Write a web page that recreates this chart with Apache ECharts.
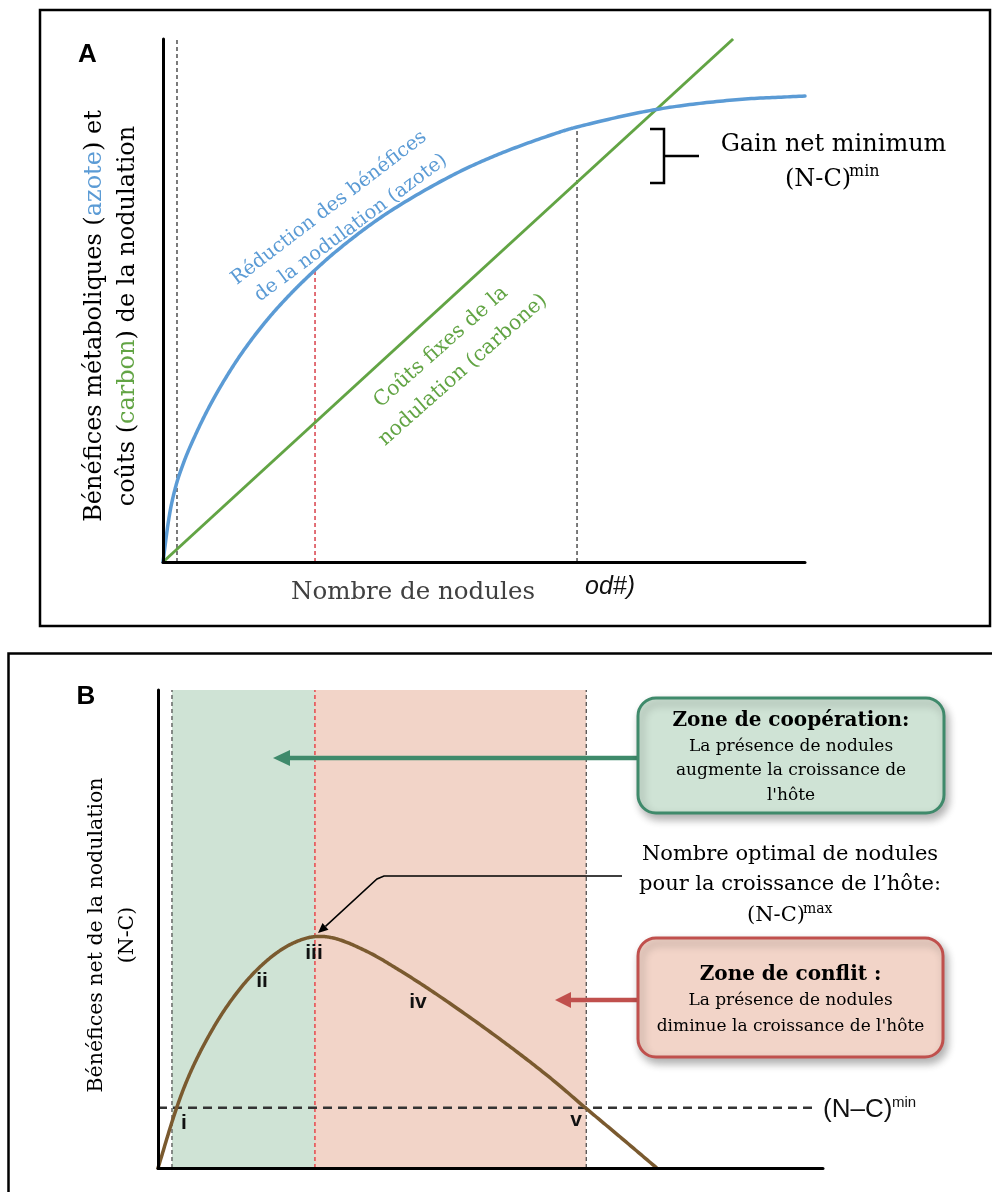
<!DOCTYPE html>
<html><head><meta charset="utf-8">
<script src="https://cdn.jsdelivr.net/npm/echarts@6/dist/echarts.min.js"></script>
<style>html,body{margin:0;padding:0;background:#fff}#c{width:992px;height:1192px}</style>
</head><body><div id="c"></div>
<script>
// ---- Panel A data (x: nombre de nodules 0..100, y: 0..100) ----
const beneficesAzoteA = [[0,0],[0.83,7.65],[1.36,11.28],[2.18,15.3],[2.91,17.97],[3.94,21.24],[6.54,28.11],[9.14,33.92],[12.26,39.92],[15.89,45.81],[19.47,50.75],[23.68,55.83],[27.83,60.27],[34.84,66.63],[45.17,74.0],[52.96,78.3],[61.84,82.22],[64.49,83.17],[76.32,86.42],[88.79,88.34],[100,89.1]];
const coutsCarboneA = [[0,0],[88.8,100]];
const verticalsA = [2.18, 23.68, 64.49];
const verticalTopsA = [100, 55.83, 83.17];
// ---- Panel B data ----
const netBeneficeB = [[0,0],[2.81,12.62],[4.81,19.79],[7.32,26.84],[10.33,33.74],[13.83,39.94],[17.34,44.48],[20.35,47.07],[23.35,48.37],[26.36,48.12],[31.38,45.33],[36.39,41.3],[42.41,35.86],[51.43,26.95],[58.95,18.89],[64.21,12.66],[69.47,6.53],[75.0,0]];
const verticalsB = [2.1, 23.6, 64.4];
const ncMinB = 12.6;
const ncMinEndB = 98.8;

const SERIF = '"DejaVu Serif"';
const SANS = '"Liberation Sans"';
const BLUE = '#5b9bd5', GREEN = '#62a444', BROWN = '#7a5a2f';

const chart = echarts.init(document.getElementById('c'), null, {renderer:'canvas'});

function axis(grid){
  return {gridIndex:grid, type:'value', min:0, max:100, z:10,
    axisLine:{show:true, onZero:false, lineStyle:{color:'#000', width:3}},
    axisTick:{show:false}, axisLabel:{show:false}, splitLine:{show:false}};
}
function vline(grid, x, top, color, width, dash){
  return {type:'line', xAxisIndex:grid, yAxisIndex:grid, data:[[x,0],[x,top]], symbol:'none', silent:true, z:4,
    lineStyle:{color:color, width:width, type:dash}};
}
// centripetal Catmull-Rom through the projected data points (drawing only)
function spline(P){
  const out = [];
  const n = P.length;
  const get = i => P[Math.max(0, Math.min(n-1, i))];
  function tj(ti, a, b){ const d = Math.hypot(b[0]-a[0], b[1]-a[1]); return ti + Math.max(Math.sqrt(d), 1e-4); }
  for (let i = 0; i < n-1; i++){
    let p0 = get(i-1), p1 = get(i), p2 = get(i+1), p3 = get(i+2);
    if (i === 0) p0 = [2*p1[0]-p2[0], 2*p1[1]-p2[1]];
    if (i === n-2) p3 = [2*p2[0]-p1[0], 2*p2[1]-p1[1]];
    const t0 = 0, t1 = tj(t0,p0,p1), t2 = tj(t1,p1,p2), t3 = tj(t2,p2,p3);
    const steps = 24;
    for (let s = 0; s <= steps; s++){
      if (i > 0 && s === 0) continue;
      const t = t1 + (t2-t1)*s/steps;
      const L = (a,b,ta,tb) => [ (tb-t)/(tb-ta)*a[0] + (t-ta)/(tb-ta)*b[0], (tb-t)/(tb-ta)*a[1] + (t-ta)/(tb-ta)*b[1] ];
      const A1 = L(p0,p1,t0,t1), A2 = L(p1,p2,t1,t2), A3 = L(p2,p3,t2,t3);
      const B1 = L(A1,A2,t0,t2), B2 = L(A2,A3,t1,t3);
      out.push(L(B1,B2,t1,t2));
    }
  }
  return out;
}
function curveSeries(grid, data, color, width){
  return {type:'custom', xAxisIndex:grid, yAxisIndex:grid, data:data, silent:true, z:6, clip:false,
    encode:{x:0, y:1},
    renderItem:function(params, api){
      if (params.dataIndex !== 0) return null;
      const pts = data.map(d => api.coord(d));
      return {type:'polyline', shape:{points:spline(pts)}, style:{stroke:color, lineWidth:width, fill:'none', lineJoin:'round', lineCap:'round'}};
    }};
}

const series = [
  curveSeries(0, beneficesAzoteA, BLUE, 3.5),
  {type:'line', xAxisIndex:0, yAxisIndex:0, data:coutsCarboneA, symbol:'none', z:5,
    lineStyle:{color:GREEN, width:3}},
  vline(0, verticalsA[0], verticalTopsA[0], '#222', 1.2, [4,3]),
  vline(0, verticalsA[1], verticalTopsA[1], '#d9404a', 1.5, [4,3]),
  vline(0, verticalsA[2], verticalTopsA[2], '#222', 1.2, [4,3]),
  // panel B shading
  {type:'line', xAxisIndex:1, yAxisIndex:1, data:[], z:1, silent:true,
    markArea:{silent:true, data:[
      [{xAxis:verticalsB[0], yAxis:0, itemStyle:{color:'#cfe3d5'}},{xAxis:verticalsB[1], yAxis:100}],
      [{xAxis:verticalsB[1], yAxis:0, itemStyle:{color:'#f2d4c8'}},{xAxis:verticalsB[2], yAxis:100}]
    ]}},
  vline(1, verticalsB[0], 100, '#444', 1.2, [4,3]),
  vline(1, verticalsB[1], 100, '#e8202a', 1.2, [4,3]),
  vline(1, verticalsB[2], 100, '#444', 1.2, [4,3]),
  {type:'line', xAxisIndex:1, yAxisIndex:1, data:[[0,ncMinB],[ncMinEndB,ncMinB]], symbol:'none', silent:true, z:4,
    lineStyle:{color:'#333', width:2.5, type:[9,6]}},
  curveSeries(1, netBeneficeB, BROWN, 3.5)
];

function txt(x, y, text, font, fill, extra){
  return Object.assign({type:'text', x:x, y:y, z:20, silent:true,
    style:{text:text, font:font, fill:fill||'#000', align:'center', verticalAlign:'middle', textAlign:'center', textVerticalAlign:'middle'}}, extra||{});
}
function ltxt(x, y, text, font, fill){
  return {type:'text', x:x, y:y, z:20, silent:true,
    style:{text:text, font:font, fill:fill||'#000', align:'left', verticalAlign:'middle', textAlign:'left', textVerticalAlign:'middle'}};
}
const deg = Math.PI/180;

const graphic = [
  // panel borders
  {type:'rect', z:0, silent:true, shape:{x:40,y:10,width:950,height:616}, style:{fill:'none', stroke:'#000', lineWidth:2.5}},
  {type:'rect', z:0, silent:true, shape:{x:8.5,y:653.5,width:1000,height:600}, style:{fill:'none', stroke:'#000', lineWidth:2.5}},
  // panel letters
  txt(87.5, 55, 'A', 'bold 26px '+SANS),
  txt(86, 697, 'B', 'bold 26px '+SANS),
  // panel A y-axis label
  {type:'text', x:111.5, y:316, rotation:Math.PI/2, z:20, silent:true,
    style:{text:'{k|Bénéfices métaboliques (}{b|azote}{k|) et}\n{k|coûts (}{g|carbon}{k|) de la nodulation}',
      align:'center', verticalAlign:'middle', textAlign:'center', textVerticalAlign:'middle',
      rich:{k:{font:'24px '+SERIF, fill:'#000', lineHeight:33}, b:{font:'24px '+SERIF, fill:BLUE, lineHeight:33}, g:{font:'24px '+SERIF, fill:GREEN, lineHeight:33}}}},
  // x label A
  txt(413, 593, 'Nombre de nodules', '24.5px '+SERIF, '#404040'),
  txt(610, 587, 'od#)', 'italic 25px '+SANS, '#111'),
  // curve labels A
  txt(329, 208, 'Réduction des bénéfices', '19.5px '+SERIF, BLUE, {rotation:37.5*deg}),
  txt(351, 228, 'de la nodulation (azote)', '19.5px '+SERIF, BLUE, {rotation:36.5*deg}),
  txt(441, 347, 'Coûts fixes de la', '20.5px '+SERIF, GREEN, {rotation:41.6*deg}),
  txt(463, 370, 'nodulation (carbone)', '20.5px '+SERIF, GREEN, {rotation:41.5*deg}),
  // gain net minimum bracket
  {type:'polyline', z:20, silent:true, shape:{points:[[650,129],[664,129],[664,183],[650,183]]}, style:{stroke:'#000', lineWidth:2.5, fill:'none'}},
  {type:'line', z:20, silent:true, shape:{x1:664,y1:156,x2:699,y2:156}, style:{stroke:'#000', lineWidth:2.5}},
  txt(833.5, 145, 'Gain net minimum', '24px '+SERIF),
  ltxt(785, 180, '(N-C)', '24px '+SERIF),
  ltxt(849, 172, 'min', '16px '+SERIF),
  // panel B y-axis label
  {type:'text', x:112.5, y:935, rotation:Math.PI/2, z:20, silent:true,
    style:{text:'Bénéfices net de la nodulation\n(N-C)', font:'20.5px '+SERIF, fill:'#000', lineHeight:31,
      align:'center', verticalAlign:'middle', textAlign:'center', textVerticalAlign:'middle'}},
  // roman numerals
  txt(184, 1123, 'i', 'bold 21px '+SANS, '#111'),
  txt(262, 981, 'ii', 'bold 21px '+SANS, '#111'),
  txt(314, 953, 'iii', 'bold 21px '+SANS, '#111'),
  txt(418, 1002, 'iv', 'bold 21px '+SANS, '#111'),
  txt(576, 1120, 'v', 'bold 21px '+SANS, '#111'),
  // (N–C)min label B
  ltxt(823, 1110, '(N–C)', '26px '+SANS, '#111'),
  ltxt(892, 1103, 'min', '15px '+SANS, '#111'),
  // cooperation box + arrow
  {type:'line', z:15, silent:true, shape:{x1:637,y1:758,x2:287,y2:758}, style:{stroke:'#3f8a6b', lineWidth:4.5}},
  {type:'polygon', z:15, silent:true, shape:{points:[[273,758],[290,750],[290,766]]}, style:{fill:'#3f8a6b'}},
  {type:'rect', z:16, silent:true, shape:{x:638,y:698,width:306,height:115,r:18},
    style:{fill:'#cfe3d5', stroke:'#3f8a6b', lineWidth:3, shadowBlur:8, shadowColor:'rgba(0,0,0,0.3)', shadowOffsetX:3, shadowOffsetY:5}},
  txt(791, 721, 'Zone de coopération:', 'bold 20px '+SERIF),
  txt(791, 747, 'La présence de nodules', '17px '+SERIF),
  txt(791, 771, 'augmente la croissance de', '17px '+SERIF),
  txt(791, 796, "l'hôte", '17px '+SERIF),
  // optimal callout
  txt(790, 855, 'Nombre optimal de nodules', '21px '+SERIF),
  txt(790, 885, 'pour la croissance de l’hôte:', '21px '+SERIF),
  ltxt(747, 916, '(N-C)', '21px '+SERIF),
  ltxt(803, 909, 'max', '14px '+SERIF),
  {type:'polyline', z:15, silent:true, shape:{points:[[622,876],[384,876],[377,879],[325.5,926.4]]}, style:{stroke:'#000', lineWidth:1.5, fill:'none'}},
  {type:'polygon', z:15, silent:true, shape:{points:[[318,933],[328.5,929.8],[322.5,923.0]]}, style:{fill:'#000'}},
  // conflict box + arrow
  {type:'line', z:15, silent:true, shape:{x1:637,y1:1000,x2:569,y2:1000}, style:{stroke:'#c0504d', lineWidth:4.5}},
  {type:'polygon', z:15, silent:true, shape:{points:[[555,1000],[571,992],[571,1008]]}, style:{fill:'#c0504d'}},
  {type:'rect', z:16, silent:true, shape:{x:638,y:938,width:305,height:119,r:18},
    style:{fill:'#f2d4c8', stroke:'#c0504d', lineWidth:3, shadowBlur:8, shadowColor:'rgba(0,0,0,0.3)', shadowOffsetX:3, shadowOffsetY:5}},
  txt(790.5, 975, 'Zone de conflit :', 'bold 20px '+SERIF),
  txt(790.5, 1001, 'La présence de nodules', '17px '+SERIF),
  txt(790.5, 1027, "diminue la croissance de l'hôte", '17px '+SERIF)
];

chart.setOption({
  animation:false,
  backgroundColor:'#fff',
  grid:[
    {left:163, top:39, width:642, height:523, outerBoundsMode:'none', containLabel:false},
    {left:158, top:690, width:665, height:478, outerBoundsMode:'none', containLabel:false}
  ],
  xAxis:[axis(0), axis(1)],
  yAxis:[axis(0), axis(1)],
  series:series,
  graphic:graphic
});
</script></body></html>
